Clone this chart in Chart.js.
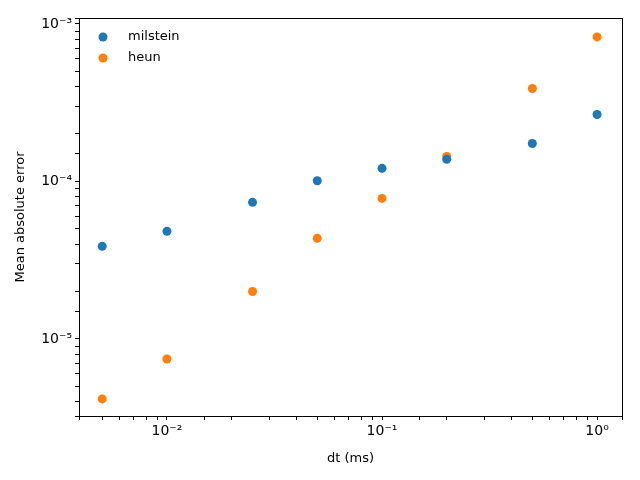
<!DOCTYPE html>
<html><head><script src="https://cdn.jsdelivr.net/npm/chart.js@4"></script>
<style>html,body{margin:0;background:#fff}</style></head><body>
<div style="width:640px;height:480px"><canvas id="c"></canvas></div>
<script>
const dt = [0.005, 0.01, 0.025, 0.05, 0.1, 0.2, 0.5, 1.0];
const milstein = [3.87e-5, 4.82e-5, 7.36e-5, 1.01e-4, 1.21e-4, 1.38e-4, 1.74e-4, 2.66e-4];
const heun = [4.16e-6, 7.46e-6, 2.0e-5, 4.35e-5, 7.8e-5, 1.44e-4, 3.89e-4, 8.27e-4];
const seriesNames = ['milstein', 'heun'];
const colors = ['#1f77b4', '#ff7f0e'];
const sup = {'-':'⁻','0':'⁰','1':'¹','2':'²','3':'³','4':'⁴','5':'⁵','6':'⁶','7':'⁷','8':'⁸','9':'⁹'};
function pow10(v){const e=Math.log10(v);const r=Math.round(e);if(Math.abs(e-r)>1e-9)return '';return '10'+String(r).split('').map(c=>sup[c]).join('');}
const font={family:'DejaVu Sans',size:13};
const tfont={family:'DejaVu Sans',size:14};
const mk=(ys)=>dt.map((x,i)=>({x:x,y:ys[i]}));
const frame={id:'frame',afterDraw(ch){const a=ch.chartArea,c=ch.ctx;c.save();c.strokeStyle='#000';c.lineWidth=1;c.strokeRect(a.left+0.5,a.top+0.5,a.right-a.left,a.bottom-a.top);
c.font='13px DejaVu Sans';c.textBaseline='middle';
seriesNames.forEach((n,i)=>{const y=a.top+19+i*21;c.fillStyle=colors[i];c.beginPath();c.arc(a.left+24,y,4.5,0,Math.PI*2);c.fill();c.fillStyle='#000';c.fillText(n,a.left+49,y);});c.restore();}};
const sc=(min,max,title,fit)=>({type:'logarithmic',min:min,max:max,
 title:{display:true,text:title,color:'#000',font:font,padding:0},
 grid:{drawOnChartArea:false,drawTicks:true,tickLength:4,color:'#000',tickColor:'#000'},border:{display:false},
 ticks:{color:'#000',font:tfont,autoSkip:false,maxRotation:0,padding:3,callback:(v)=>pow10(v)},afterFit:fit});
new Chart(document.getElementById('c'),{type:'scatter',
 data:{datasets:[{label:seriesNames[0],data:mk(milstein),backgroundColor:colors[0],borderWidth:0,pointRadius:4.5,pointHoverRadius:4.5},
 {label:seriesNames[1],data:mk(heun),backgroundColor:colors[1],borderWidth:0,pointRadius:4.5,pointHoverRadius:4.5}]},
 options:{responsive:true,maintainAspectRatio:false,animation:false,
 layout:{padding:{top:18,right:18,left:13,bottom:14}},
 plugins:{legend:{display:false},tooltip:{enabled:false}},
 scales:{x:sc(3.9e-3,1.306,'dt (ms)',s=>{s.height=50;}),
 y:sc(3.24e-6,1.09e-3,'Mean absolute error',s=>{s.width=66;})}},
 plugins:[frame]});
</script></body></html>
